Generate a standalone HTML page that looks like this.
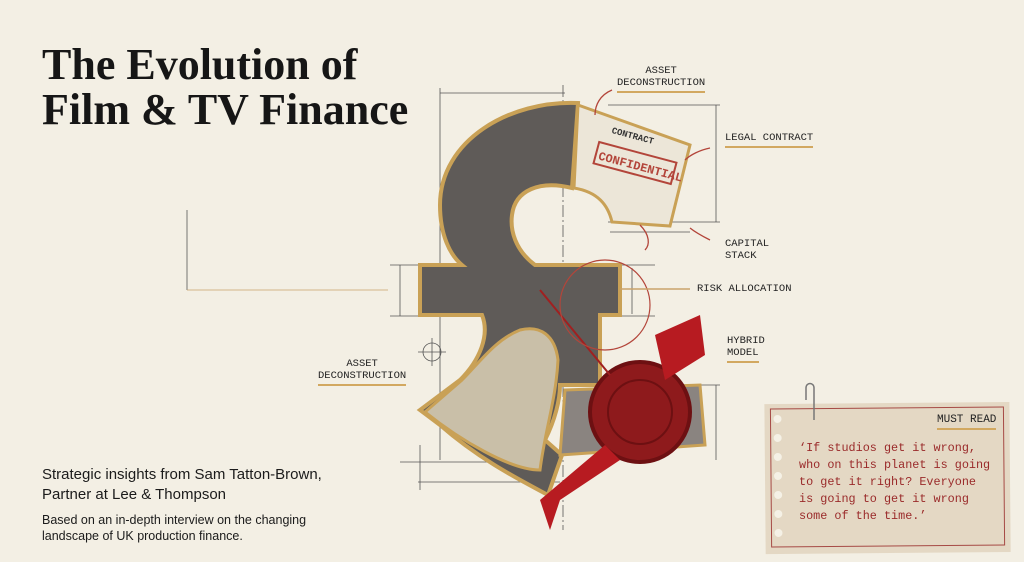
<!DOCTYPE html>
<html><head><meta charset="utf-8"><style>
body{margin:0;width:1024px;height:562px;overflow:hidden;background:#f3efe4;font-family:"Liberation Sans",sans-serif;position:relative}
.t{position:absolute;font-family:"Liberation Serif",serif;font-weight:bold;color:#161616;font-size:44px;line-height:45px;left:42px;top:42px;letter-spacing:0px}
.lab{position:absolute;font-family:"Liberation Mono",monospace;font-size:10.5px;color:#222;line-height:12px}
.ul{border-bottom:2px solid #d2a860;padding-bottom:2px}
</style></head><body>
<div class="t">The Evolution of<br>Film &amp; TV Finance</div>
<div style="position:absolute;left:42px;top:465px;font-size:15px;line-height:20px;color:#1b1b1b">Strategic insights from Sam Tatton-Brown,<br>Partner at Lee &amp; Thompson</div>
<div style="position:absolute;left:42px;top:512px;font-size:12.5px;line-height:16px;color:#1b1b1b">Based on an in-depth interview on the changing<br>landscape of UK production finance.</div>

<svg width="1024" height="562" style="position:absolute;left:0;top:0">
<g stroke="#555" stroke-width="0.8" fill="none">
<line x1="187" y1="210" x2="187" y2="290"/><line x1="187" y1="290" x2="388" y2="290" stroke="#c9a36b"/>
<line x1="440" y1="93" x2="565" y2="93"/><line x1="440" y1="88" x2="440" y2="460"/>
<line x1="608" y1="105" x2="720" y2="105"/><line x1="716" y1="105" x2="716" y2="222"/>
<line x1="608" y1="222" x2="720" y2="222"/><line x1="610" y1="232" x2="690" y2="232"/>
<line x1="563" y1="85" x2="563" y2="530" stroke-dasharray="12 3 2 3"/>
<line x1="390" y1="265" x2="655" y2="265"/><line x1="390" y1="316" x2="655" y2="316"/>
<line x1="400" y1="265" x2="400" y2="316"/><line x1="632" y1="268" x2="632" y2="314"/>
<line x1="420" y1="445" x2="420" y2="490"/><line x1="400" y1="462" x2="560" y2="462"/>
<line x1="418" y1="482" x2="560" y2="482"/><line x1="690" y1="385" x2="720" y2="385"/><line x1="716" y1="385" x2="716" y2="460"/>
<circle cx="432" cy="352" r="9"/><line x1="418" y1="352" x2="446" y2="352"/><line x1="432" y1="338" x2="432" y2="366"/>
<circle cx="563" cy="355" r="9"/><line x1="549" y1="355" x2="577" y2="355"/>
</g>
<!-- pound sign -->
<path d="M578 103 C510 100 440 140 440 205 C440 235 450 255 462 265 L420 265 L420 315 L482 315 C490 335 480 360 460 380 L420 410 L440 425 C480 460 520 480 548 495 L562 455 L545 440 C555 420 560 400 560 385 L600 385 L600 315 L620 315 L620 265 L535 265 C515 250 510 230 512 215 C515 190 540 180 572 188 Z" fill="#5f5b58" stroke="#c9a156" stroke-width="4"/>
<path d="M578 105 L690 145 L670 226 L612 222 C608 205 598 192 574 188 Z" fill="#ece6d8" stroke="#c9a156" stroke-width="3"/>
<rect x="595" y="152" width="80" height="22" transform="rotate(15 635 163)" fill="none" stroke="#b3453a" stroke-width="2"/>
<text x="598" y="169" transform="rotate(15 635 163)" font-family="Liberation Mono" font-size="12" fill="#b3453a" font-weight="bold">CONFIDENTIAL</text>
<text x="610" y="138" transform="rotate(15 630 140)" font-family="Liberation Mono" font-size="9" fill="#333" font-weight="bold">CONTRACT</text>
<path d="M425 412 L462 380 C480 362 495 340 520 330 C540 325 555 335 558 360 C556 400 545 430 540 470 C510 470 460 440 425 412 Z" fill="#c9bfa8" stroke="#c9a156" stroke-width="3"/>
<path d="M565 390 L700 385 L705 445 L560 455 Z" fill="#8a8480" stroke="#c9a156" stroke-width="3"/>
<circle cx="640" cy="412" r="50" fill="#8e1a1c" stroke="#6d1012" stroke-width="4"/>
<circle cx="640" cy="412" r="32" fill="none" stroke="#6d1012" stroke-width="2"/>
<path d="M655 335 L700 315 L705 355 L665 380 Z" fill="#b71b21"/>
<path d="M605 445 L540 500 L550 530 L560 500 L620 460 Z" fill="#b71b21"/>
<line x1="540" y1="290" x2="610" y2="375" stroke="#a02020" stroke-width="2"/>
<circle cx="605" cy="305" r="45" fill="none" stroke="#b3453a" stroke-width="1.2"/>
<line x1="620" y1="289" x2="690" y2="289" stroke="#c9a36b" stroke-width="1.5"/>
<g stroke="#b3453a" fill="none" stroke-width="1.3"><path d="M612 90 C600 95 595 105 595 115"/><path d="M710 148 C700 150 690 155 685 160"/><path d="M710 240 C700 235 695 232 690 228"/><path d="M640 225 C650 235 650 245 645 250"/></g>
<!-- note -->
<g transform="rotate(-0.5 890 475)">
<rect x="765" y="403" width="245" height="150" fill="#e4d8c4"/>
<rect x="771" y="408" width="233" height="138" fill="none" stroke="#a64a45" stroke-width="1"/>
<g fill="#f5f1e6"><circle cx="778" cy="418" r="4"/><circle cx="778" cy="437" r="4"/><circle cx="778" cy="456" r="4"/><circle cx="778" cy="475" r="4"/><circle cx="778" cy="494" r="4"/><circle cx="778" cy="513" r="4"/><circle cx="778" cy="532" r="4"/></g>
</g>
<path d="M806 400 L806 388 C806 382 814 382 814 388 L814 420" fill="none" stroke="#777" stroke-width="1.5"/>
</svg>
<div class="lab" style="left:617px;top:65px;text-align:center">ASSET<br><span class="ul">DECONSTRUCTION</span></div>
<div class="lab" style="left:725px;top:132px"><span class="ul">LEGAL CONTRACT</span></div>
<div class="lab" style="left:725px;top:238px">CAPITAL<br>STACK</div>
<div class="lab" style="left:697px;top:283px">RISK ALLOCATION</div>
<div class="lab" style="left:727px;top:335px">HYBRID<br><span class="ul">MODEL</span></div>
<div class="lab" style="left:318px;top:358px;text-align:center">ASSET<br><span class="ul">DECONSTRUCTION</span></div>
<div class="lab" style="left:937px;top:414px;font-size:11px"><span class="ul">MUST READ</span></div>
<div style="position:absolute;left:799px;top:440px;font-family:'Liberation Mono',monospace;font-size:11.8px;line-height:17px;color:#9a2a2a">‘If studios get it wrong,<br>who on this planet is going<br>to get it right? Everyone<br>is going to get it wrong<br>some of the time.’</div>
</body></html>
